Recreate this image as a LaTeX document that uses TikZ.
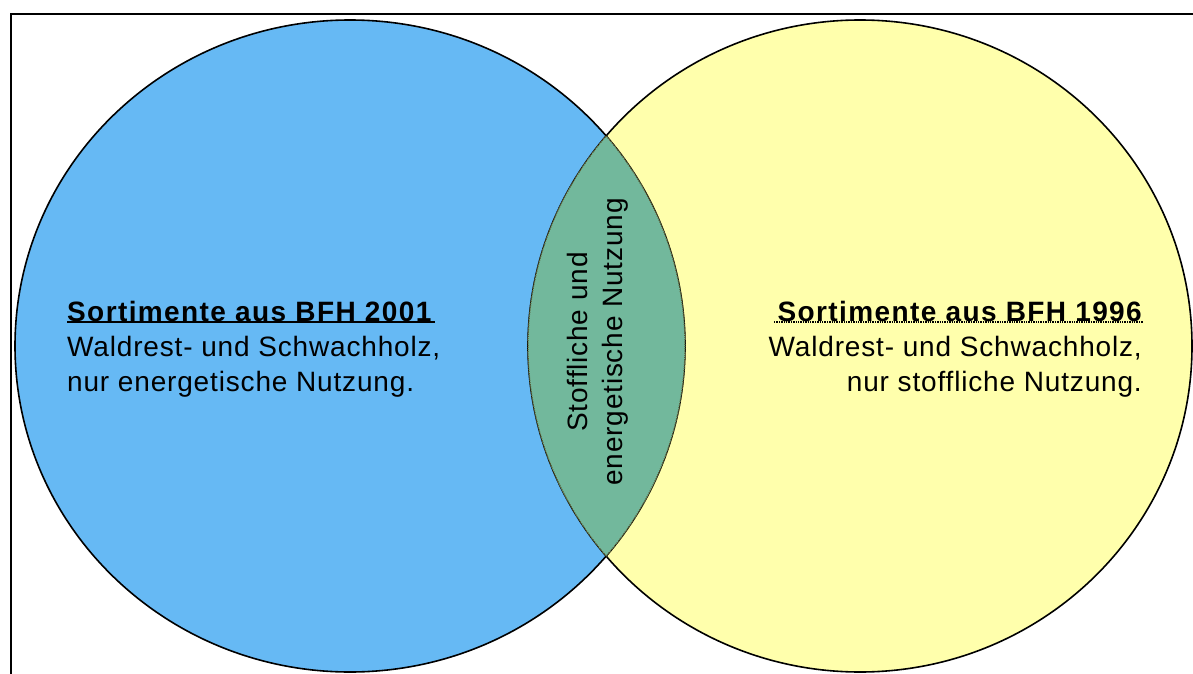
\documentclass[tikz,border=0pt]{standalone}
\usepackage{fontspec}
\setmainfont{Liberation Sans}
\definecolor{setblue}{HTML}{66B9F4}
\definecolor{setyellow}{HTML}{FFFFAC}
\definecolor{setlens}{HTML}{72B89C}
\definecolor{lensline}{HTML}{5A5A30}
\newcommand{\settitle}[1]{{\bfseries\addfontfeatures{LetterSpace=5}#1}}

\begin{document}
\begin{tikzpicture}[x=1pt, y=-1pt,
  setline/.style={draw=black, line width=1.6pt},
  lensedge/.style={draw=lensline, line width=1.2pt, densely dotted},
  settext/.style={inner sep=0pt, font=\fontsize{28}{35}\selectfont\addfontfeatures{LetterSpace=3}},
  titleline/.style={line width=1.4pt}]
  \useasboundingbox (0,0) rectangle (1193,674);
  % frame
  \draw[line width=2pt] (11,674) -- (11,14) -- (1193,14);
  % the two sets
  \fill[setblue] (350,346) ellipse [x radius=335, y radius=326];
  \fill[setyellow] (860,346) ellipse [x radius=332, y radius=326];
  \draw[setline] (350,346) ellipse [x radius=335, y radius=326];
  \draw[setline] (860,346) ellipse [x radius=332, y radius=326];
  % overlap
  \begin{scope}
    \clip (350,346) ellipse [x radius=335, y radius=326];
    \fill[setlens] (860,346) ellipse [x radius=332, y radius=326];
    \draw[lensedge] (860,346) ellipse [x radius=332, y radius=326];
  \end{scope}
  \begin{scope}
    \clip (860,346) ellipse [x radius=332, y radius=326];
    \draw[lensedge] (350,346) ellipse [x radius=335, y radius=326];
  \end{scope}
  % labels
  \node[settext, anchor=north west, align=left] (bfhzweitausendeins) at (67,301)
    {\settitle{Sortimente aus BFH 2001}\\
     Waldrest- und Schwachholz,\\
     nur energetische Nutzung.};
  \node[settext, anchor=north east, align=right] (bfhneunzehnsechsundneunzig) at (1142,301)
    {\settitle{Sortimente aus BFH 1996}\\
     Waldrest- und Schwachholz,\\
     nur stoffliche Nutzung.};
  \node[settext, rotate=90, align=center] (beide) at (598,342)
    {Stoffliche und\\ energetische Nutzung};
  \draw[titleline] (67,322) -- (435,322);
  \draw[titleline, densely dotted] (774,322) -- (1143,322);
\end{tikzpicture}
\end{document}
